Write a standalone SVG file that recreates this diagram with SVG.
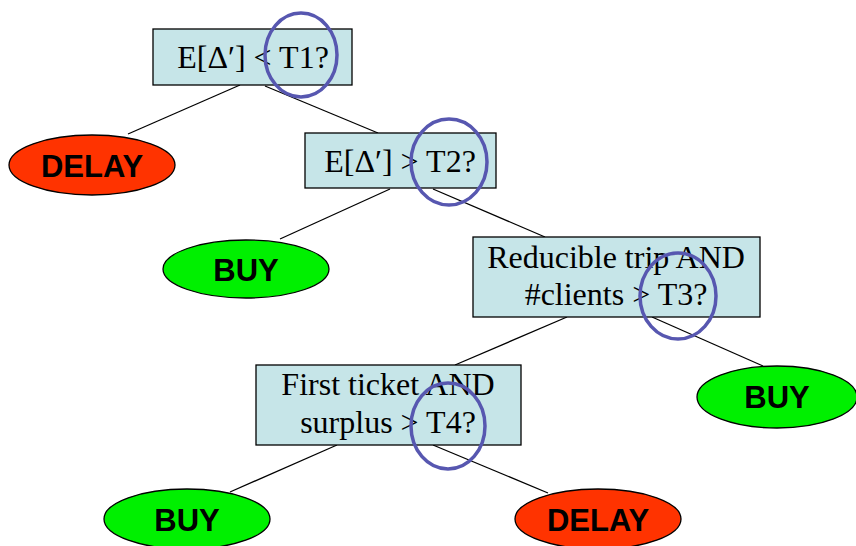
<svg xmlns="http://www.w3.org/2000/svg" width="856" height="546" viewBox="0 0 856 546">
  <style>
    .edge { stroke: #000; stroke-width: 1.3; fill: none; }
    .test rect { fill: #C6E5E8; stroke: #000; stroke-width: 1.3; }
    .test text { font-family: "Liberation Serif", "Times New Roman", serif; font-size: 32px; fill: #000; text-anchor: middle; }
    .leaf ellipse { stroke: #000; stroke-width: 1.3; }
    .leaf text { font-family: "Liberation Sans", Arial, sans-serif; font-size: 31px; font-weight: bold; fill: #000; text-anchor: middle; }
    .buy ellipse { fill: #00F000; }
    .delay ellipse { fill: #FF3300; }
    .mark { fill: none; stroke: #5757B0; stroke-width: 3.5; }
  </style>

  <!-- tree edges -->
  <g id="connectors">
    <line class="edge" x1="240" y1="85" x2="128" y2="134"/>
    <line class="edge" x1="265" y1="86" x2="378" y2="133"/>
    <line class="edge" x1="390" y1="189" x2="280" y2="239"/>
    <line class="edge" x1="433" y1="189" x2="545" y2="237"/>
    <line class="edge" x1="567" y1="317" x2="455" y2="365"/>
    <line class="edge" x1="652" y1="317" x2="763" y2="366"/>
    <line class="edge" x1="337" y1="445" x2="230" y2="492"/>
    <line class="edge" x1="433" y1="445" x2="548" y2="493"/>
  </g>

  <!-- decision nodes -->
  <g id="test-t1" class="test">
    <rect x="153" y="29" width="199" height="56"/>
    <text x="253" y="68">E[Δ′] &lt; T1?</text>
  </g>
  <g id="test-t2" class="test">
    <rect x="305" y="133" width="191" height="55"/>
    <text x="400" y="172">E[Δ′] &gt; T2?</text>
  </g>
  <g id="test-t3" class="test">
    <rect x="473" y="237" width="287" height="80"/>
    <text x="616" y="268">Reducible trip AND</text>
    <text x="616" y="305">#clients &gt; T3?</text>
  </g>
  <g id="test-t4" class="test">
    <rect x="256" y="365" width="265" height="80"/>
    <text x="388" y="395">First ticket AND</text>
    <text x="388" y="433">surplus &gt; T4?</text>
  </g>

  <!-- outcome leaves -->
  <g id="leaf-delay-1" class="leaf delay">
    <ellipse cx="92" cy="165" rx="83" ry="30"/>
    <text x="92" y="177">DELAY</text>
  </g>
  <g id="leaf-buy-1" class="leaf buy">
    <ellipse cx="246" cy="269" rx="83" ry="29"/>
    <text x="246" y="281">BUY</text>
  </g>
  <g id="leaf-buy-2" class="leaf buy">
    <ellipse cx="777" cy="397" rx="80" ry="31"/>
    <text x="777" y="408">BUY</text>
  </g>
  <g id="leaf-buy-3" class="leaf buy">
    <ellipse cx="187" cy="519" rx="83" ry="30"/>
    <text x="187" y="531">BUY</text>
  </g>
  <g id="leaf-delay-2" class="leaf delay">
    <ellipse cx="598" cy="519" rx="83" ry="30"/>
    <text x="598" y="531">DELAY</text>
  </g>

  <!-- threshold highlights -->
  <g id="highlights">
    <ellipse class="mark" cx="301" cy="55" rx="36" ry="42"/>
    <ellipse class="mark" cx="449" cy="162" rx="38" ry="43"/>
    <ellipse class="mark" cx="678" cy="296" rx="38" ry="43"/>
    <ellipse class="mark" cx="448" cy="426" rx="37" ry="43"/>
  </g>
</svg>
